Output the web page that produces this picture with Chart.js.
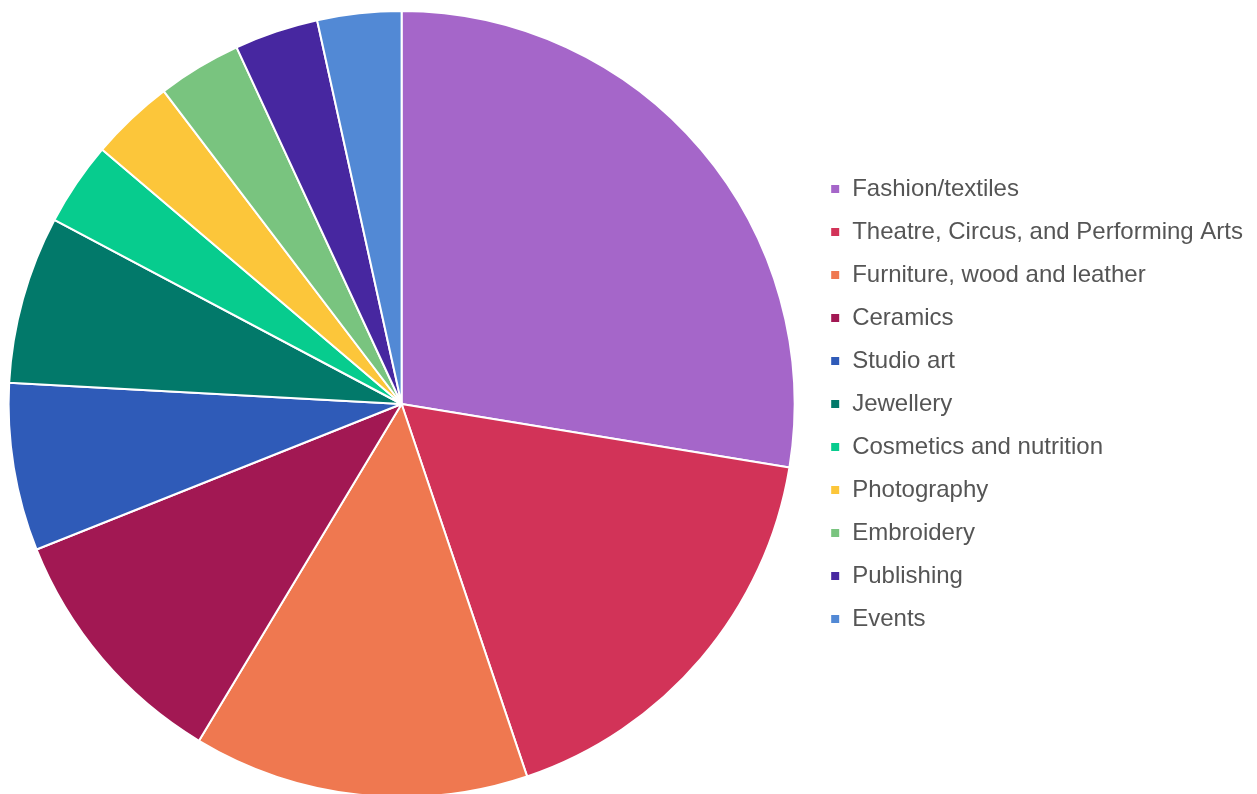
<!DOCTYPE html>
<html>
<head>
<meta charset="utf-8">
<script src="https://cdn.jsdelivr.net/npm/chart.js@4"></script>
<style>
    html, body { margin: 0; padding: 0; background: #fff; overflow: hidden; }
    #wrap { width: 1265px; height: 808px; position: relative; margin-left: -8px; }
</style>
</head>
<body>
<div id="wrap"><canvas id="pieChart"></canvas></div>
<script>
const categories = [
    'Fashion/textiles',
    'Theatre, Circus, and Performing Arts',
    'Furniture, wood and leather',
    'Ceramics',
    'Studio art',
    'Jewellery',
    'Cosmetics and nutrition',
    'Photography',
    'Embroidery',
    'Publishing',
    'Events'
];
const counts = [8, 5, 4, 3, 2, 2, 1, 1, 1, 1, 1];
const sliceColors = [
    '#A566C9', '#D23358', '#EF7850', '#A21853', '#2F5BB8', '#02796A',
    '#07CC8E', '#FCC63A', '#79C47F', '#4727A0', '#5289D5'
];

const ctx = document.getElementById('pieChart');
new Chart(ctx, {
    type: 'pie',
    data: {
        labels: categories,
        datasets: [{
            data: counts,
            backgroundColor: sliceColors,
            borderColor: '#ffffff',
            borderWidth: 2
        }]
    },
    options: {
        responsive: true,
        maintainAspectRatio: false,
        animation: false,
        layout: {
            // pie runs slightly off the bottom edge in the original
            padding: { top: 10, bottom: 10, left: 0, right: 4 }
        },
        plugins: {
            legend: {
                position: 'right',
                labels: {
                    boxWidth: 10,
                    boxHeight: 10,
                    padding: 19,
                    color: '#555555',
                    font: { family: '"Liberation Sans", Arial, sans-serif', size: 24 }
                }
            },
            tooltip: { enabled: false }
        }
    }
});
</script>
</body>
</html>
